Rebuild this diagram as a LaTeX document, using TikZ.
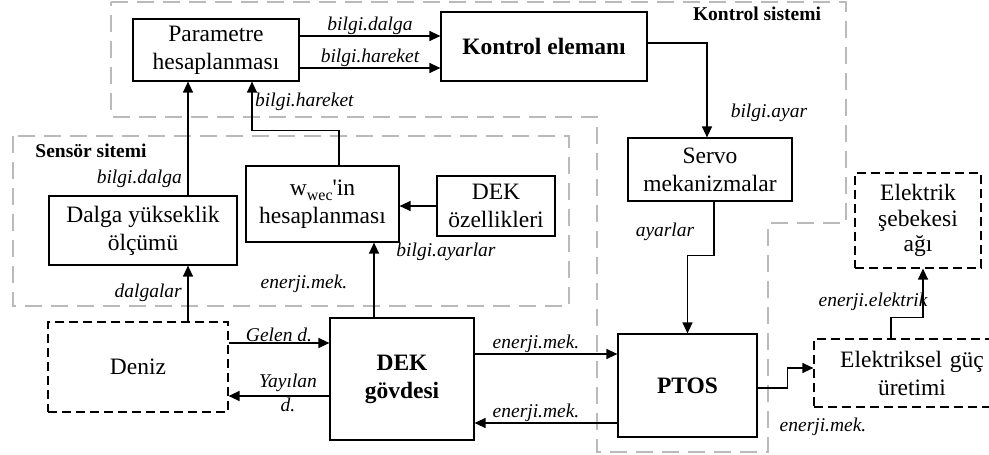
\documentclass[tikz,border=0pt]{standalone}
\usepackage{fontspec}
\setmainfont{Liberation Serif}
\usetikzlibrary{arrows.meta}

\begin{document}
\begin{tikzpicture}[
  x=1pt, y=-1pt,
  >={Triangle[length=11pt,width=10pt]},
  font=\fontsize{23.5}{28}\selectfont,
  blk/.style={
    rectangle, draw=black, line width=1.2pt,
    align=center, inner sep=2pt
  },
  dbx/.style={blk, dash pattern=on 9pt off 5pt},
  bld/.style={blk, font=\fontsize{23.5}{28}\selectfont\bfseries},
  lbl/.style={font=\fontsize{19.5}{23}\selectfont\itshape, inner sep=1pt},
  tit/.style={font=\fontsize{19.5}{23}\selectfont\bfseries, inner sep=1pt},
  grp/.style={draw=black!27, line width=2pt, dash pattern=on 17pt off 9pt},
  arr/.style={->, line width=1.3pt}
]
\useasboundingbox (0,0) rectangle (989,455);

% system borders (grey, dashed)
\draw[grp] (111,2) -- (846,2) -- (846,223) -- (768,223) -- (768,452)
  -- (597,452) -- (597,117) -- (111,117) -- cycle;
\draw[grp] (13,136) rectangle (569,306);
\node[tit] (kontroltit) at (757,14) {Kontrol sistemi};
\node[tit] (sensortit) at (91,151) {Sensör sitemi};

% control blocks
\node[blk, minimum width=166pt, minimum height=62pt] (param) at (216,50)
  {Parametre\\hesaplanması};
\node[bld, minimum width=206pt, minimum height=69pt] (kontrol) at (544,46.5)
  {Kontrol elemanı};
\node[blk, minimum width=164pt, minimum height=63pt] (servo) at (710,169.5)
  {Servo\\mekanizmalar};

% sensor blocks
\node[blk, minimum width=188pt, minimum height=69pt] (dalga) at (143,230.5)
  {Dalga yükseklik\\ölçümü};
\node[blk, minimum width=153pt, minimum height=76pt] (wwec) at (322.5,204)
  {w\raisebox{-0.5ex}{\fontsize{16}{16}\selectfont wec}\textquotesingle in\\hesaplanması};
\node[blk, minimum width=118pt, minimum height=60pt] (dekoz) at (496,206)
  {DEK\\özellikleri};

% plant row
\node[dbx, minimum width=180pt, minimum height=90pt] (deniz) at (138,367) {Deniz};
\node[bld, minimum width=144pt, minimum height=122pt] (govde) at (402,379)
  {DEK\\gövdesi};
\node[bld, minimum width=139pt, minimum height=103pt] (ptos) at (687.5,385.5) {PTOS};
\node[dbx, minimum width=196pt, minimum height=68pt, text width=182pt] (uretim)
  at (912,373) {Elektriksel güç\\üretimi};
\node[dbx, minimum width=126pt, minimum height=95pt,
  font=\fontsize{23.5}{25.5}\selectfont] (sebeke) at (918,220.5)
  {Elektrik\\şebekesi\\ağı};

% parameters -> controller -> servos
\draw[arr] ([yshift=14pt]param.east) -- ([yshift=14pt]param.east -| kontrol.west)
  node[lbl, midway, above] (lbld1) {bilgi.dalga};
\draw[arr] ([yshift=-18pt]param.east) -- ([yshift=-18pt]param.east -| kontrol.west)
  node[lbl, midway, above] (lblh1) {bilgi.hareket};
\draw[arr] ([yshift=3.5pt]kontrol.east) -| ([xshift=-3pt]servo.north);
\node[lbl] (lblayar) at (769,113) {bilgi.ayar};

% measurements up to the parameter block
\draw[arr] ([xshift=50pt]deniz.north) -- ([xshift=50pt]deniz.north |- dalga.south);
\node[lbl, anchor=east] (lbldalgalar) at (183,293) {dalgalar};
\draw[arr] ([xshift=45pt]dalga.north) -- ([xshift=45pt]dalga.north |- param.south);
\node[lbl, anchor=east] (lbld2) at (183,179) {bilgi.dalga};
\draw[arr] ([xshift=16.5pt]wwec.north) -- ++(0,-35) -| ([xshift=36pt]param.south);
\node[lbl, anchor=west] (lblh2) at (254,102) {bilgi.hareket};
\draw[arr] (dekoz.west) -- (dekoz.west -| wwec.east);
\draw[arr] ([xshift=-28pt]govde.north) -- ([xshift=-28pt]govde.north |- wwec.south);
\node[lbl] (lblayarlar) at (446,252) {bilgi.ayarlar};
\node[lbl] (lblmek1) at (304,284) {enerji.mek.};

% sea <-> body
\draw[arr] ([yshift=24pt]deniz.east) -- ([yshift=24pt]deniz.east -| govde.west)
  node[lbl, midway, above] (lblgelen) {Gelen d.};
\draw[arr] ([yshift=-17pt]govde.west) -- ([yshift=-17pt]govde.west -| deniz.east);
\node[lbl, align=center, font=\fontsize{19.5}{24}\selectfont\itshape] (lblyay)
  at (288,393) {Yayılan\\d.};

% body <-> PTOS
\draw[arr] ([yshift=25pt]govde.east) -- ([yshift=25pt]govde.east -| ptos.west)
  node[lbl, pos=0.43, above] (lblmek2) {enerji.mek.};
\draw[arr] ([yshift=-44pt]govde.east -| ptos.west) -- ([yshift=-44pt]govde.east)
  node[lbl, pos=0.57, above] (lblmek3) {enerji.mek.};

% servos -> PTOS -> power generation -> grid
\draw[arr] ([xshift=4pt]servo.south) -- ++(0,54) -| (ptos.north);
\node[lbl] (lblayarlar2) at (665,232) {ayarlar};
\draw[arr] ([yshift=-2.5pt]ptos.east) -- ++(30,0) |- ([yshift=5pt]uretim.west);
\draw[arr] ([xshift=-21pt]uretim.north) -- ++(0,-21) -| ([xshift=5pt]sebeke.south);
\node[lbl] (lblelek) at (873,302) {enerji.elektrik};
\node[lbl] (lblmek4) at (823,427) {enerji.mek.};

\end{tikzpicture}
\end{document}
